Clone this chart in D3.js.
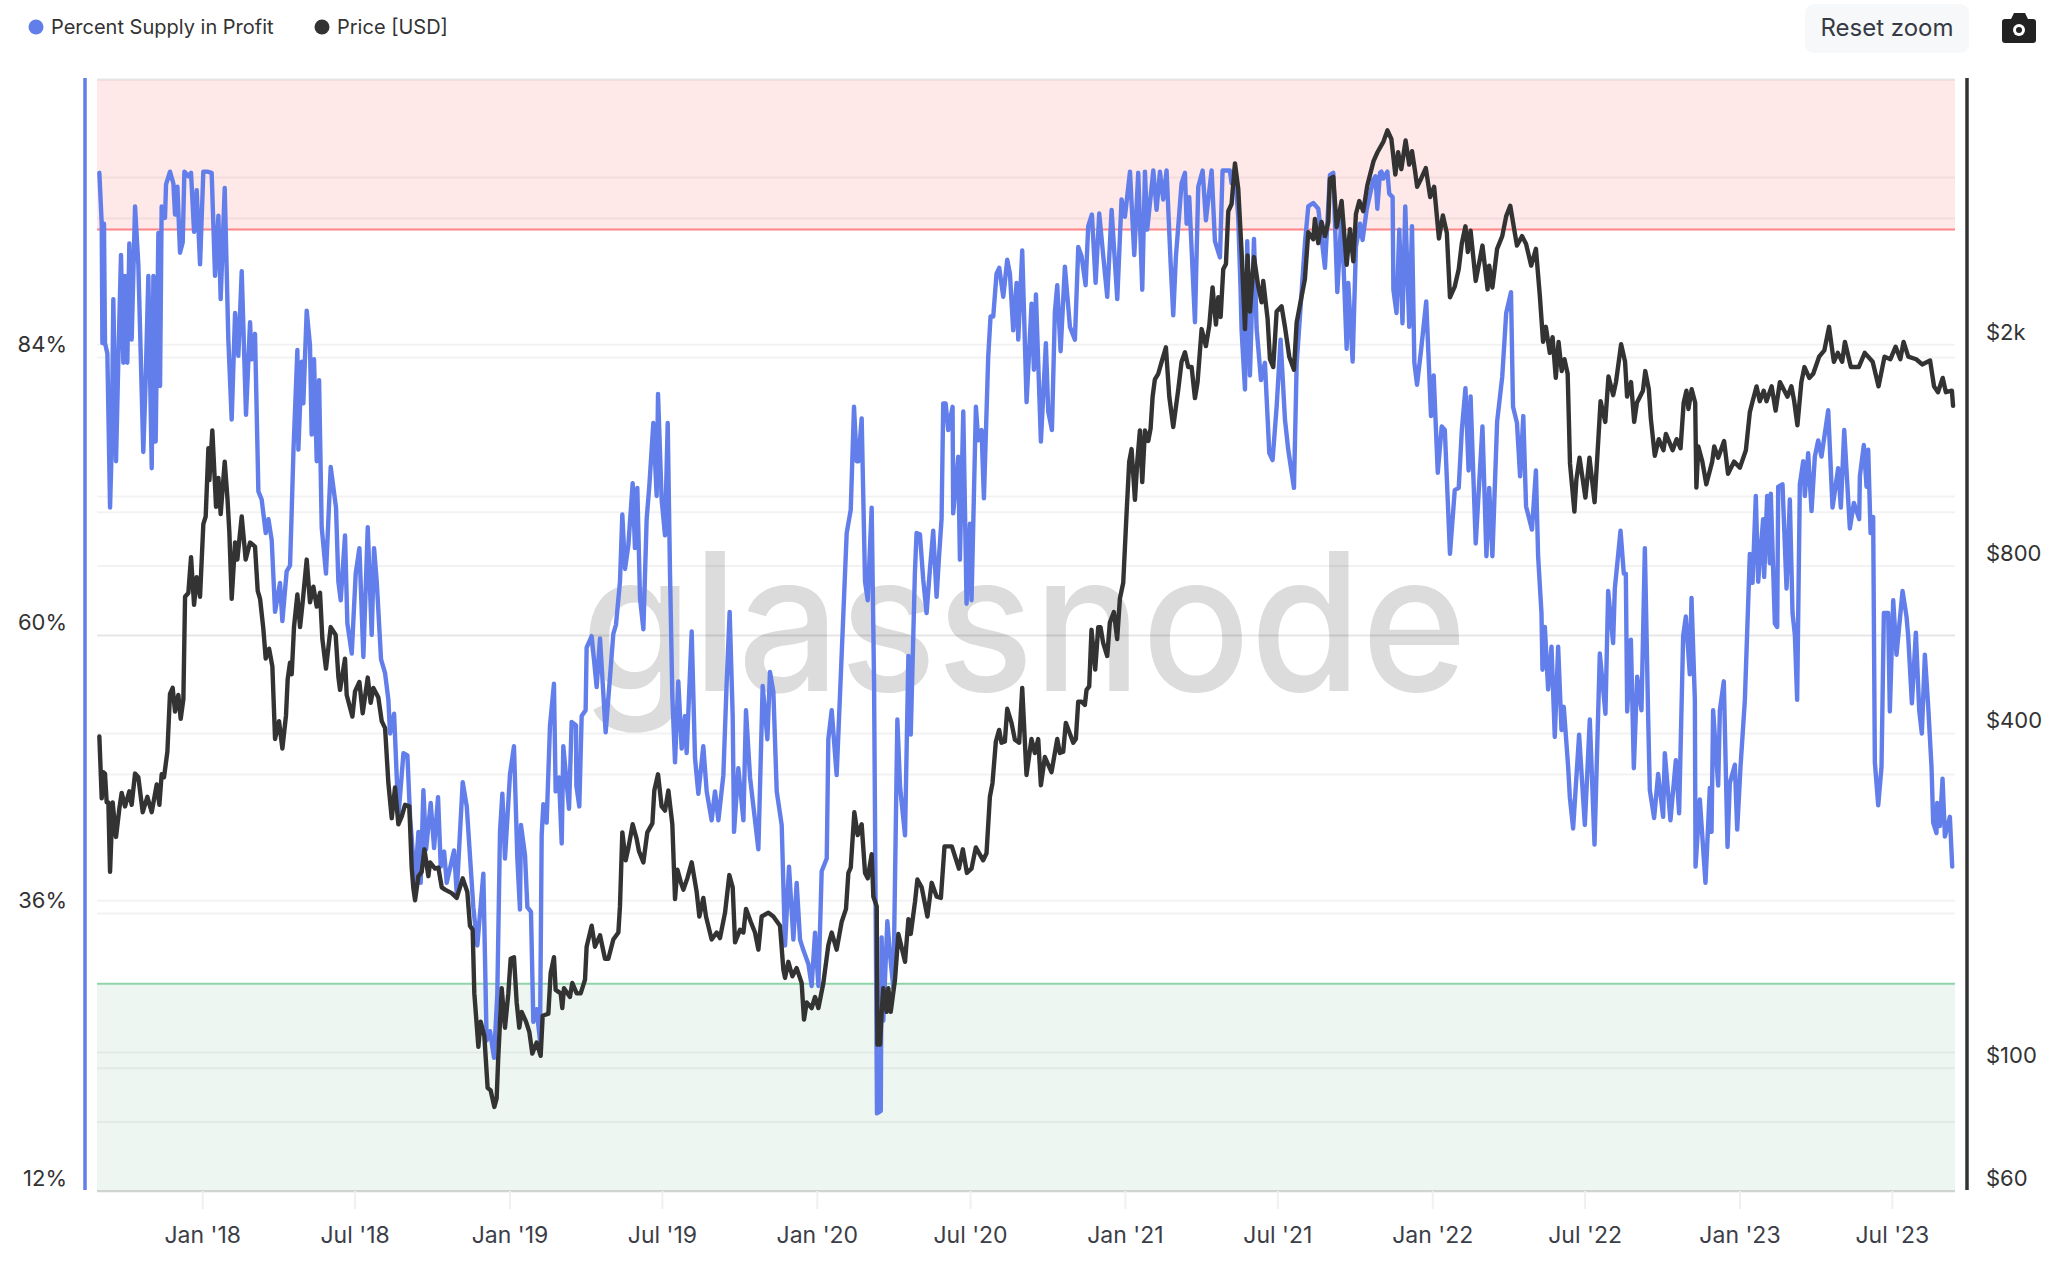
<!DOCTYPE html>
<html>
<head>
<meta charset="utf-8">
<title>Percent Supply in Profit</title>
<script src="https://cdn.jsdelivr.net/npm/d3@7"></script>
<style>
	html, body { margin: 0; padding: 0; background: #fff; }
	svg { display: block; font-family: Inter, "Noto Sans", sans-serif; }
</style>
</head>
<body>
<svg id="chart" width="2058" height="1266"></svg>
<script>
// all series are [days since firstDay, value]
let firstDay = new Date(2017, 7, 29);
let lastDay = new Date(2023, 8, 14);

let seriesNames = ['Percent Supply in Profit', 'Price [USD]'];
let seriesColors = ['#627eea', '#333333'];

let dateTicks = [[2018, 0], [2018, 6], [2019, 0], [2019, 6], [2020, 0], [2020, 6], [2021, 0], [2021, 6], [2022, 0], [2022, 6], [2023, 0], [2023, 6]];
let pctGrid = [12, 24, 36, 48, 60, 72, 84, 96, 108];
let priceGrid = [60, 80, 100, 200, 400, 600, 800, 1000, 2000, 4000, 6000];
let pctLabels = [12, 36, 60, 84];
let priceLabels = [60, 100, 400, 800, 2000];
let pctDomain = [12, 108];
let priceDomain = [60, 6000];
let upperBand = 95;
let lowerBand = 29.9;

let supply = [
	[2.8,99.9],[5.6,95.5],[6.4,85.2],[8.3,95.5],[9.5,85.2],[12.3,84.3],[15.5,71],[17.4,76],[19.4,89],[22.6,75],[25.4,83.9],[28.5,92.8],[31.3,83.5],[33.3,91],[36,83.5],[38.4,93.8],[41.2,85.5],[45.2,97],[49.1,92],[55,75.8],[57.8,82],[61,91],[65,74.4],[67,91],[69.7,76.7],[72.9,94.7],[74.9,81.5],[76.8,97],[80.8,96],[82,98.9],[86.7,100],[90.7,99],[92.7,96.3],[95.5,98.7],[98.6,93],[101.8,93.9],[103.8,100],[108.5,99.6],[111.7,99.9],[115.3,94.8],[118.4,98.4],[122.4,92],[126.3,100],[131,100],[136.2,99.9],[140.2,91],[144.2,96.2],[146.9,89],[151.7,98.6],[156,85.5],[160,78.6],[164,87.8],[167.9,84.1],[171.9,91.4],[177,79],[181.8,87],[183.8,83.8],[187.7,86],[191.7,72.4],[195.6,71.7],[200.4,68.8],[203.6,70],[207.5,68.2],[211.5,62],[217.4,64.5],[220.2,61.2],[225.3,65.5],[229.3,66],[231,70],[233.3,75.8],[238,84.6],[239.2,76],[243.2,83.6],[245.1,80],[249.1,88],[253,85],[255,77.3],[257.8,83.8],[261,75],[263.8,82],[266.9,69.3],[272,65.3],[277.6,74.5],[283.9,71],[286.7,64.6],[289.5,63],[294.6,68.6],[297.4,61],[302.6,58.4],[307.3,65.3],[311.7,67.5],[316.4,58.1],[321.6,69.3],[326.3,60],[329.1,67.5],[332.3,64.6],[337.4,57.9],[342.2,56.7],[346.1,54.4],[348.1,51.5],[352.9,53.2],[358,44.3],[364,49.8],[368.7,49.6],[371.9,44.3],[377.8,38.6],[381.8,43],[384.5,38.6],[387.7,46.6],[390.9,41.5],[396.4,45.5],[400.4,41.6],[405.1,46],[408.3,40],[412.3,41.3],[415.4,38.6],[424.1,41.4],[427.3,37.7],[434.4,47.3],[439.2,45.2],
	[447,36.5],[451.8,33.2],[458.9,39.4],[462.8,25],[466.8,25.8],[471.6,23.5],[475.5,29],[478.7,43],[481.5,46.3],[484.6,40.7],[490.6,48],[495.3,50.4],[499.3,40.7],[502.4,36.3],[503.6,43.6],[508.4,41],[511.2,36.5],[515.5,36.1],[518.3,26.6],[522.2,27.7],[526.2,25],[528.2,42.7],[530.2,45.4],[534.1,43.8],[538.1,52.2],[542.8,55.8],[544.8,46.5],[548.8,47.7],[552,42],[553.9,50.4],[560.7,45],[563.8,52.5],[569,52.2],[569.4,47],[572.9,45.2],[575.7,53],[580.4,53.5],[581.6,58.9],[587.6,59.9],[593.5,55.5],[597.5,59.7],[604.2,51.6],[609.4,56.4],[613.3,60.1],[616.5,60.9],[621.2,64.6],[624,70.4],[627.2,65.7],[631.1,67.7],[636.3,73.1],[639,67.5],[641.8,72.7],[645,63.2],[649,60.5],[652.9,70],[656.1,72.9],[660.8,78.3],[664.8,72],[666.4,80.8],[670.7,71.7],[674.7,68.6],[677.9,78.3],[680.6,65.5],[683.4,54.7],[686.6,49],[690.5,56],[694.5,50.2],[698.5,53],[700.4,49.8],[706.4,60.3],[710.3,49.4],[714.3,46.3],[720.2,50.4],[724.2,46.5],[730.1,44],[734.1,46.5],[738.1,44],[744,47.9],[748,56],[751.5,62],[755.1,53],[756.7,43],[761.8,48.5],[767.8,44],[770.9,53.5],[775.7,47.7],[781.6,44],[785.6,41.5],[790.7,55.6],[796.3,51],[799.4,56.8],[803.4,55.1],[807.4,46.5],[813.3,43.6],[817.3,33.2],[822,40],[827.2,33.7],[831.1,38.6],[835.1,33.7],[839,32.8],[845,31.6],[848.9,29.7],[852.9,34.3],[856.9,29.7],[860.8,39.6],[866.8,40.7],[868.7,51],[872.7,53.5],[878.6,47.9],[884.6,58.4],[890.5,68.8],[895.3,70.8],[899.2,79.7],[902.4,75],[904.4,75],[908.3,78.7],[912.3,64.6],[915.5,63],[920.2,71],[923,56],[925.5,30],[926.5,18.7],[928,20],[929,18.8],[930,21],[931,18.9],[932,33.9],[934,26.7],[938.8,35.3],[942,32.4],[946,29.5],[950.7,52.7],[953.9,46.9],[959.8,42.7],[963.8,58.2],[966.6,51.4],
	[971.5,65.3],[973.5,68.8],[977.5,68.7],[981.4,64.8],[985.4,61.9],[989.3,65.6],[993.3,69],[997.3,63.3],[1000.4,67],[1003.2,70],[1005.2,80],[1008,80],[1011.1,77.7],[1016.3,79.7],[1017,70.5],[1023,75.4],[1025,66.5],[1029,79.3],[1032.9,62.7],[1036.9,69.6],[1038.8,63],[1044,79.7],[1046.8,76.8],[1050.7,77.7],[1053.5,71.8],[1058.6,84],[1061.4,87.5],[1064.6,87.5],[1068.5,91.2],[1071.7,91.7],[1076.5,89.2],[1081.2,92.4],[1084.4,91.2],[1088.3,86.3],[1092.3,90.4],[1094.3,85.5],[1099,93.2],[1102.2,85.2],[1104.2,80.1],[1110.1,88.6],[1112.9,82.9],[1115.3,89.4],[1121.2,76.7],[1127.1,85.2],[1129.9,79.3],[1134.3,77.7],[1137.8,87.9],[1140.6,90.2],[1144.6,84.5],[1149.7,91.8],[1155.7,86.6],[1161.6,85.5],[1165.6,93.5],[1169.5,92.7],[1174.3,90.2],[1177.4,95.3],[1181.8,96.3],[1186.2,90.4],[1190.5,96.4],[1195.3,92.7],[1200,89.2],[1205.2,96.7],[1211.9,89],[1217,97.6],[1221,96.1],[1227,100],[1232.1,92.8],[1236.8,99.9],[1241.6,89.8],[1244.8,100],[1247.5,95],[1254.7,100.1],[1258.6,96.7],[1262.6,100],[1266.5,97.6],[1270.5,100.1],[1275.3,92.1],[1278.4,87.6],[1281.6,92.7],[1288.3,99],[1292.3,99.9],[1294.3,95.5],[1297.4,97.8],[1304.2,87],[1308.1,98.7],[1313.3,100.1],[1317.2,95.8],[1324,100.1],[1327.9,94],[1333.9,92.6],[1337,100.1],[1345.7,100.1],[1347.7,99],[1351.7,100.3],[1355.6,96],[1358.4,89.8],[1359.6,86.3],[1363.6,81.2],[1366.3,94],[1369.5,82.4],[1374.3,94.2],[1377.4,86.5],[1382.6,82],[1387.3,83.5],[1392.5,75.7],[1396.4,75.1],[1401.2,79.7],[1405.9,85.5],[1411.1,78.6],[1415,76],[1421.8,72.7],[1425,83.4],[1428.9,87.5],[1434.8,93.8],[1438.8,97],[1444.7,97.3],[1450.7,96.8],[1458.6,91.7],[1464.5,99.7],[1468.5,99.9],[1473.3,89.6],[1478.4,96.4],[1484.4,84.7],[1486.3,90.4],[1491.5,83.6],[1495.4,93.5],[1500.2,95.5],[1503.3,94.1],[1508.1,96.7],[1516,99.3],[1518.7,99.6],[1520.8,96.8],[1524,99.9],[1525.7,100],[1527.9,99.4],[1532.8,100],[1535,98.1],[1539,97.8],[1539.9,89.8],[1543.6,87.8],[1546.9,95],[1550.7,86.9],[1554,97],[1558.7,86.6],[1562,95.3],[1564.8,83.5],[1568,81.6],[1572.8,84.6],[1578.9,88.8],[1584.6,78.9],[1587.8,82.4],[1592.6,74],[1597.3,78],[1601,77.7],[1607.1,67],[1612.8,72.5],[1617.5,72.7],[1621.2,77.7],[1625.5,81.3],[1629.2,74.2],[1631.6,80.6],[1637.7,67.9],[1645.7,78],[1650.4,66.8],[1653.7,72.7],[1657.5,66.8],[1663.1,78.4],[1669.2,82.3],[1673.9,87.8],[1679.6,89.6],[1682,79.7],[1686.7,78.3],[1690.4,73.7],[1694.2,78.9],[1697.5,71.1],[1704.5,69.1],[1709.2,74.2],
	[1711.8,66.8],[1715.8,61.9],[1717,57],[1719.8,60.7],[1723.7,55.3],[1727.7,59],[1731.6,51.2],[1735.6,59],[1739.6,51.8],[1742.3,53.8],[1747.5,48.6],[1749.5,46],[1753.4,43.3],[1760.5,51.4],[1767.3,43.6],[1773.2,52.7],[1778.8,41.9],[1785.1,58.4],[1791.8,53.2],[1795,63.8],[1800.9,59.3],[1802.9,64],[1809.7,69],[1813.6,65.3],[1816,65.3],[1817.6,53.4],[1822,59.6],[1825.5,48.5],[1829.5,56.4],[1834.6,53.5],[1838.6,67.5],[1842.5,53],[1844.5,46.6],[1849.6,44.2],[1854.4,48],[1860.3,44.3],[1862.3,49.8],[1869,44],[1875.4,49.2],[1879.3,44.6],[1884.1,59.9],[1887.3,61.6],[1892,56.6],[1894,63.2],[1898,54.4],[1898.8,40],[1903.9,45.8],[1910.6,38.6],[1915.8,46.8],[1917.8,43],[1919.7,53.5],[1925.7,47],[1927.7,53.5],[1932.4,56],[1936.8,41.7],[1939.5,47.2],[1945.5,48.8],[1948.3,43.2],[1952.2,48.6],[1957.4,54.4],[1963.3,67],[1966.5,64.5],[1970.4,72],[1973.2,64.6],[1979.1,70],[1980.3,65],[1983.9,72],[1987,66.2],[1988.2,72.2],[1993,61],[1995.8,60.7],[1997,72.8],[2002.1,73],[2006.9,64],[2010.8,71.7],[2014,61.9],[2016.8,60],[2019.5,54.4],[2022.7,73],[2026.7,75],[2028.6,72],[2032.6,75.7],[2036.6,70.7],[2040.5,75.4],[2044.5,76.8],[2048.4,75.4],[2056.4,79.4],[2061.5,71],[2068.2,74.4],[2071.4,71],[2075.4,77.7],[2082.1,69.2],[2086.9,71.4],[2093.2,70],[2094,73.7],[2098.7,76.4],[2101.9,72.8],[2103.9,76],[2106.7,68.8],[2109.8,70.2],[2111.8,49],[2115.8,45.3],[2119.7,48.6],[2122.5,61.9],[2127.6,61.9],[2129.6,53.4],[2133.6,63],[2137.5,58.3],[2144.7,63.8],[2149.4,61.6],[2151.4,59.9],[2155.8,54.1],[2160.5,60.2],[2164.5,53.5],[2167.6,51.5],[2171.2,58.3],[2175.2,53.8],[2179.1,48.6],[2181.1,43.8],[2185,42.9],[2185.8,45.5],[2189,43.5],[2192.2,47.6],[2195,42.6],[2200.9,44.3],[2203.7,40]
];

let price = [
	[2.8,394],[5.6,305],[7.5,340],[9.5,338],[11.5,300],[13.5,300],[15.5,225],[18.6,300],[22.6,260],[26.5,292],[29.3,312],[33.3,295],[38.4,314],[41.2,297],[45.2,338],[49.1,333],[54.3,288],[59.8,307],[65,288],[70.9,323],[74.1,297],[76.8,337],[79.6,333],[83.6,370],[86.7,470],[89.9,482],[92.7,437],[96.6,468],[99.4,424],[102.6,460],[104.6,703],[108.5,714],[111.7,828],[115.3,680],[118.4,762],[122.4,703],[126.3,950],[129.1,980],[132.3,1300],[133.5,1140],[137,1400],[141.4,1020],[144.2,1150],[146.9,990],[151.7,1230],[154.9,1060],[157.2,920],[160,697],[164,880],[166.7,820],[171.9,980],[176.6,820],[181.8,880],[187.7,865],[190.9,720],[193.7,697],[197.6,615],[200.4,544],[204.4,567],[208.3,527],[211.5,390],[216.2,420],[220.2,375],[224.5,430],[226.5,500],[229.3,535],[231.3,510],[234,620],[238,710],[241.2,620],[244.3,687],[249.1,820],[253,687],[257,733],[261,675],[264.9,715],[267.7,590],[272,522],[277.6,620],[283.5,600],[286.7,505],[288.7,478],[294.6,544],[296.6,468],[303.4,428],[306.5,475],[311.7,494],[315.6,434],[321.6,503],[325.1,453],[328.3,482],[334.2,463],[338.2,420],[342.2,408],[346.1,325],[350.1,281],[354,319],[358,274],[362,283],[365.9,297],[371,295],[373.8,229],[375.8,210],[377.8,200],[381.8,221],[385.7,225],[388.9,247],[393.6,221],[395.6,234],[401.6,228],[405.5,229],[409.5,211],[413.4,209],[421.3,206],[427.3,202],[434.4,219],[439.9,207],[443,180],
	[446.2,177],[448.2,136],[453,109],[455.7,121],[460.1,114],[464,92],[467.6,91],[472,85],[474.7,88],[476.7,105],[480.7,139],[484.6,118],[488.6,136],[491.4,157],[495.3,158],[498.5,131],[501.6,118],[504.4,126],[509.6,121],[513.5,116],[517.1,106],[522.2,111],[527,105],[529.4,124],[536.1,125],[538.9,148],[542.8,158],[544.8,138],[550.8,136],[552.7,128],[554.7,139],[561.8,134],[564.6,142],[569.8,136],[574.5,136],[579.7,144],[581.6,165],[587.6,180],[591.5,165],[597.5,173],[603.4,157],[607.4,157],[613.3,170],[619.3,175],[621.2,195],[624,265],[628,236],[631.1,248],[636.3,274],[641,258],[643.8,245],[649,234],[653.7,265],[659.7,275],[662,315],[666.4,337],[670.7,295],[674.7,290],[678.7,315],[683.4,274],[686.6,201],[689.4,227],[693.3,216],[696.5,209],[701.2,219],[706.4,234],[712.3,207],[715.5,187],[720.2,202],[723.4,187],[730.1,170],[736.1,175],[740,171],[746,190],[751.1,222],[755.1,211],[757.9,168],[763.8,177],[767.8,175],[770.9,193],[776.5,183],[781.6,175],[785.6,163],[789.5,187],[797.5,190],[803.4,187],[811.3,180],[815.3,150],[817.3,145],[821.2,155],[826,146],[831.1,151],[837,142],[839.8,122],[843,131],[848.9,128],[852.9,134],[856.9,128],[862.8,142],[868.7,166],[872.7,175],[878.6,163],[884.6,183],[889.7,193],[892.5,224],[895.3,229],[899.6,288],[903.6,262],[908.3,274],[912.3,224],[915.5,219],[920.2,242],[922.2,203],[926.2,195],[927,110],[930.1,110],[932.1,126],[934,139],[938,126],[940,139],[942.8,126],[947.9,144],[951.9,174],[959.8,155],[963.8,185],[966.6,174],[971.7,199],[974.5,218],[979.6,211],[986.4,187],[991.5,215],[997.4,203],[1002.4,202],[1006.7,250],[1015.4,250],[1023.8,228],[1028.5,247],[1033.3,224],
	[1038.8,228],[1043.9,249],[1052.6,236],[1056.6,243],[1060.6,307],[1063.7,325],[1067.7,386],[1071.6,405],[1074.4,384],[1078.4,386],[1081.2,442],[1086.3,417],[1090.3,389],[1095.4,384],[1099,482],[1104.1,336],[1110,390],[1114,368],[1118,390],[1121.2,322],[1125.9,362],[1133.8,340],[1140.6,390],[1143.7,368],[1147.7,370],[1150.8,417],[1159.6,384],[1162.7,390],[1165.5,455],[1169.5,455],[1173.4,449],[1175.4,478],[1178.6,485],[1181.3,613],[1185.7,520],[1189.3,620],[1192,620],[1195.2,580],[1200,550],[1203.1,632],[1207.9,660],[1211.8,590],[1215,697],[1219,745],
	[1223,996],[1226.1,1230],[1228.9,1296],[1232.9,1050],[1235.7,1230],[1238.8,1400],[1241.6,1130],[1244.8,1400],[1248.7,1340],[1251.5,1410],[1253.9,1610],[1256.6,1730],[1260.6,1770],[1264.6,1860],[1269.7,1975],[1273.7,1610],[1278.4,1420],[1284.4,1660],[1288.3,1860],[1292.3,1935],[1296.2,1820],[1300.2,1820],[1304.2,1600],[1307.3,1710],[1312.1,2130],[1317.2,1985],[1321.2,2160],[1325.1,2530],[1329.1,2170],[1331.9,2430],[1334.7,2240],[1337.8,2730],[1341,2790],[1343.8,3470],[1347.7,3575],[1351.7,4230],[1355.6,3810],[1359.6,2930],[1363.6,2130],[1366.7,2890],[1369.5,2290],[1374.3,2870],[1379.4,2540],[1383.4,2380],[1385.3,2600],[1390.5,2220],[1393.3,1880],[1397.2,1820],[1401.2,2290],[1407.1,2340],[1411.1,2150],[1416.2,1900],[1421.8,1800],[1425,2190],[1430.9,2440],[1434.8,2620],[1438.8,3180],[1444.7,3090],[1446.7,3360],[1450.7,3040],[1454.6,3320],[1458.6,3130],[1462.6,3320],[1464.5,3970],[1468.5,4000],[1472.5,3250],[1478.4,3620],[1484.4,2780],[1488.3,3220],[1492.3,2820],[1495.4,3430],[1499.4,3620],[1504.1,3470],[1508.9,3860],[1516.3,4270],[1521,4430],[1528.1,4630],[1532.8,4850],
	[1537.5,4680],[1542.2,4040],[1545.5,4430],[1549.3,4130],[1554.4,4650],[1558.7,4210],[1562,4450],[1565.7,4090],[1568.1,3840],[1572.8,3970],[1578.4,4150],[1583.6,3680],[1588.3,3840],[1594,3100],[1598.7,3410],[1603.4,3170],[1607.1,2430],[1612.8,2540],[1617.5,2730],[1621.2,3040],[1625.5,3260],[1628.3,2930],[1631.6,3200],[1637.7,2600],[1645.7,3010],[1651.8,2510],[1653.7,2770],[1657.5,2530],[1663.1,2970],[1669.2,3130],[1673.9,3400],[1678.7,3550],[1683.4,3220],[1686.7,3010],[1692.8,3130],[1697.5,3030],[1703.6,2770],[1709.2,2970],[1713.9,2440],[1717.7,2020],[1721,2150],[1725.7,1930],[1729,2060],[1732.8,1740],[1736.1,2020],[1739.8,1790],[1743.1,1880],[1746.9,1770],[1749.7,1220],[1754.9,1000],[1757.2,1140],[1761,1250],[1768,1060],[1772.8,1250],[1778.9,1040],[1783.6,1370],[1786,1580],[1791.6,1450],[1795.4,1750],[1801,1620],[1804.3,1710],[1810.4,2000],[1815.1,1860],[1817.5,1610],[1822.2,1710],[1825.9,1450],[1829.2,1570],[1836.3,1650],[1839.1,1790],[1843.3,1660],[1845.7,1470],[1850.4,1260],[1855.1,1350],[1860.7,1290],[1863.6,1380],[1871.6,1290],[1876.3,1350],[1881,1300],[1884.7,1570],[1888,1650],[1890.4,1530],[1894.2,1660],[1898.4,1570],[1899.8,1105],[1902.1,1310],[1906.9,1230],[1911.6,1120],[1918.6,1230],[1921,1310],[1925.7,1250],[1932.7,1340],[1937.4,1170],[1944.5,1230],[1951.5,1200],[1958.6,1290],[1963.3,1510],[1966.6,1580],[1971.3,1680],[1975.1,1580],[1979.8,1650],[1983.1,1580],[1989.2,1680],[1993.9,1520],[1999,1710],[2008,1610],[2012.7,1680],[2016,1580],[2019.8,1430],[2024.5,1710],[2028.2,1820],[2033.9,1740],[2038.6,1770],[2045.6,1900],[2051.8,1950],[2057.4,2150],[2059.8,2020],[2063.1,1860],[2067.8,1930],[2073,1860],[2076.2,2020],[2083.3,1820],[2092.7,1820],[2099.8,1930],[2109.2,1860],[2116.2,1680],[2123.3,1900],[2130.3,1880],[2136.5,1980],[2142.1,1880],[2145.9,2020],[2151.5,1900],[2160.9,1880],[2168,1840],[2177.4,1870],[2182.1,1680],[2186.8,1640],[2192.4,1740],[2196.2,1640],[2203.3,1650],[2204.7,1550]
];

// plot box
let plotLeft = 97;
let plotRight = 1955;
let plotTop = 79;
let plotBottom = 1191;

let svg = d3.select('#chart');

function dayToDate(day) {
	return new Date(firstDay.getTime() + day * 86400000);
}

let xScale = d3.scaleTime().domain([ firstDay, lastDay ]).range([ plotLeft, plotRight ]);
let pctScale = d3.scaleLinear().domain(pctDomain).range([ plotBottom, plotTop ]);
let priceScale = d3.scaleLog().domain(priceDomain).range([ plotBottom, plotTop ]);

// watermark sits under everything
svg
	.append('text')
	.attr('x', 581)
	.attr('y', 691)
	.attr('textLength', 886)
	.attr('lengthAdjust', 'spacingAndGlyphs')
	.style('font-family', 'Inter, sans-serif')
	.style('font-weight', 500)
	.style('font-size', '192px')
	.attr('fill', '#dcdcdc')
	.text('glassnode');

// grid lines of both y axes, see-through so that they darken where they meet
function drawGrid(scale, values) {
	let axis = d3.axisLeft(scale).tickValues(values).tickSize(-(plotRight - plotLeft)).tickFormat('');
	let g = svg.append('g').attr('transform', `translate(${plotLeft}, 0)`).call(axis);
	g.select('.domain').remove();
	g.selectAll('line').attr('stroke', '#000').attr('stroke-opacity', 0.05).attr('stroke-width', 2);
}
drawGrid(pctScale, pctGrid);
drawGrid(priceScale, priceGrid);

// the two zones and their edges
svg.append('rect').attr('x', plotLeft).attr('width', plotRight - plotLeft).attr('y', pctScale(108) + 1).attr('height', pctScale(upperBand) - pctScale(108) - 1).attr('fill', 'rgb(255, 0, 0)').attr('fill-opacity', 0.09);
svg.append('rect').attr('x', plotLeft).attr('width', plotRight - plotLeft).attr('y', pctScale(lowerBand)).attr('height', pctScale(12) - pctScale(lowerBand)).attr('fill', 'rgb(50, 150, 90)').attr('fill-opacity', 0.09);
svg.append('line').attr('x1', plotLeft).attr('x2', plotRight).attr('y1', pctScale(upperBand)).attr('y2', pctScale(upperBand)).attr('stroke', '#ff8585').attr('stroke-width', 2);
svg.append('line').attr('x1', plotLeft).attr('x2', plotRight).attr('y1', pctScale(lowerBand)).attr('y2', pctScale(lowerBand)).attr('stroke', '#8fd3a8').attr('stroke-width', 2);

// x axis with its long ticks
let xAxis = d3
	.axisBottom(xScale)
	.tickValues(dateTicks.map((d) => new Date(d[0], d[1], 1)))
	.tickSize(18)
	.tickPadding(12)
	.tickFormat((d) => d3.timeFormat("%b '%y")(d));
let xG = svg.append('g').attr('transform', `translate(0, ${plotBottom})`).call(xAxis);
xG.select('.domain').attr('stroke', '#cfd4d2').attr('stroke-width', 2).attr('d', `M${plotLeft},0H${plotRight}`);
xG.selectAll('.tick line').attr('stroke', '#f0f0f0').attr('stroke-width', 2);
xG.selectAll('text').attr('fill', '#3b3e47').style('font-size', '23px').style('font-family', 'Inter, sans-serif').attr('dy', '0.94em');

// the series
let pctLine = d3.line().x((d) => xScale(dayToDate(d[0]))).y((d) => pctScale(d[1]));
let priceLine = d3.line().x((d) => xScale(dayToDate(d[0]))).y((d) => priceScale(d[1]));
svg.append('path').attr('d', pctLine(supply)).attr('fill', 'none').attr('stroke', seriesColors[0]).attr('stroke-width', 4.4).attr('stroke-linejoin', 'round').attr('stroke-linecap', 'round');
svg.append('path').attr('d', priceLine(price)).attr('fill', 'none').attr('stroke', seriesColors[1]).attr('stroke-width', 4.4).attr('stroke-linejoin', 'round').attr('stroke-linecap', 'round');

// y axis bars, the labels sit just above their grid line
let leftAxis = d3.axisLeft(pctScale).tickValues(pctLabels).tickSize(0).tickPadding(18).tickFormat((d) => `${d}%`);
let leftG = svg.append('g').attr('transform', 'translate(85, 0)').call(leftAxis);
leftG.select('.domain').attr('stroke', seriesColors[0]).attr('stroke-width', 3.5).attr('d', `M0,${plotTop - 1}V${plotBottom - 1}`);
leftG.selectAll('text').attr('fill', '#333').style('font-size', '22px').style('font-family', 'Inter, sans-serif').attr('dy', '-0.24em');

let rightAxis = d3.axisRight(priceScale).tickValues(priceLabels).tickSize(0).tickPadding(19).tickFormat((d) => (d >= 1000 ? `$${d / 1000}k` : `$${d}`));
let rightG = svg.append('g').attr('transform', 'translate(1967, 0)').call(rightAxis);
rightG.select('.domain').attr('stroke', seriesColors[1]).attr('stroke-width', 3.5).attr('d', `M0,${plotTop - 1}V${plotBottom - 1}`);
rightG.selectAll('text').attr('fill', '#333').style('font-size', '22px').style('font-family', 'Inter, sans-serif').attr('dy', '-0.24em');

// legend
let legendX = [36, 322];
seriesNames.forEach((name, i) => {
	svg.append('circle').attr('cx', legendX[i]).attr('cy', 27).attr('r', 7.5).attr('fill', seriesColors[i]);
	svg.append('text').attr('x', legendX[i] + 15).attr('y', 27).attr('dy', '0.35em').attr('fill', '#333').style('font-size', '20px').text(name);
});

// reset button and camera
svg.append('rect').attr('x', 1805).attr('y', 4).attr('width', 164).attr('height', 49).attr('rx', 9).attr('fill', '#f7f8fa');
svg.append('text').attr('x', 1887).attr('y', 28).attr('dy', '0.35em').attr('text-anchor', 'middle').attr('fill', '#363a45').style('font-size', '24px').text('Reset zoom');
let camera = svg.append('g').attr('transform', 'translate(2002, 13)');
camera.append('path').attr('d', 'M3,6H9L12,0H23L26,6H31Q34,6 34,9V27Q34,30 31,30H3Q0,30 0,27V9Q0,6 3,6Z').attr('fill', '#222');
camera.append('circle').attr('cx', 17).attr('cy', 17).attr('r', 6).attr('fill', '#fff');
camera.append('circle').attr('cx', 17).attr('cy', 17).attr('r', 3).attr('fill', '#222');
</script>
</body>
</html>
